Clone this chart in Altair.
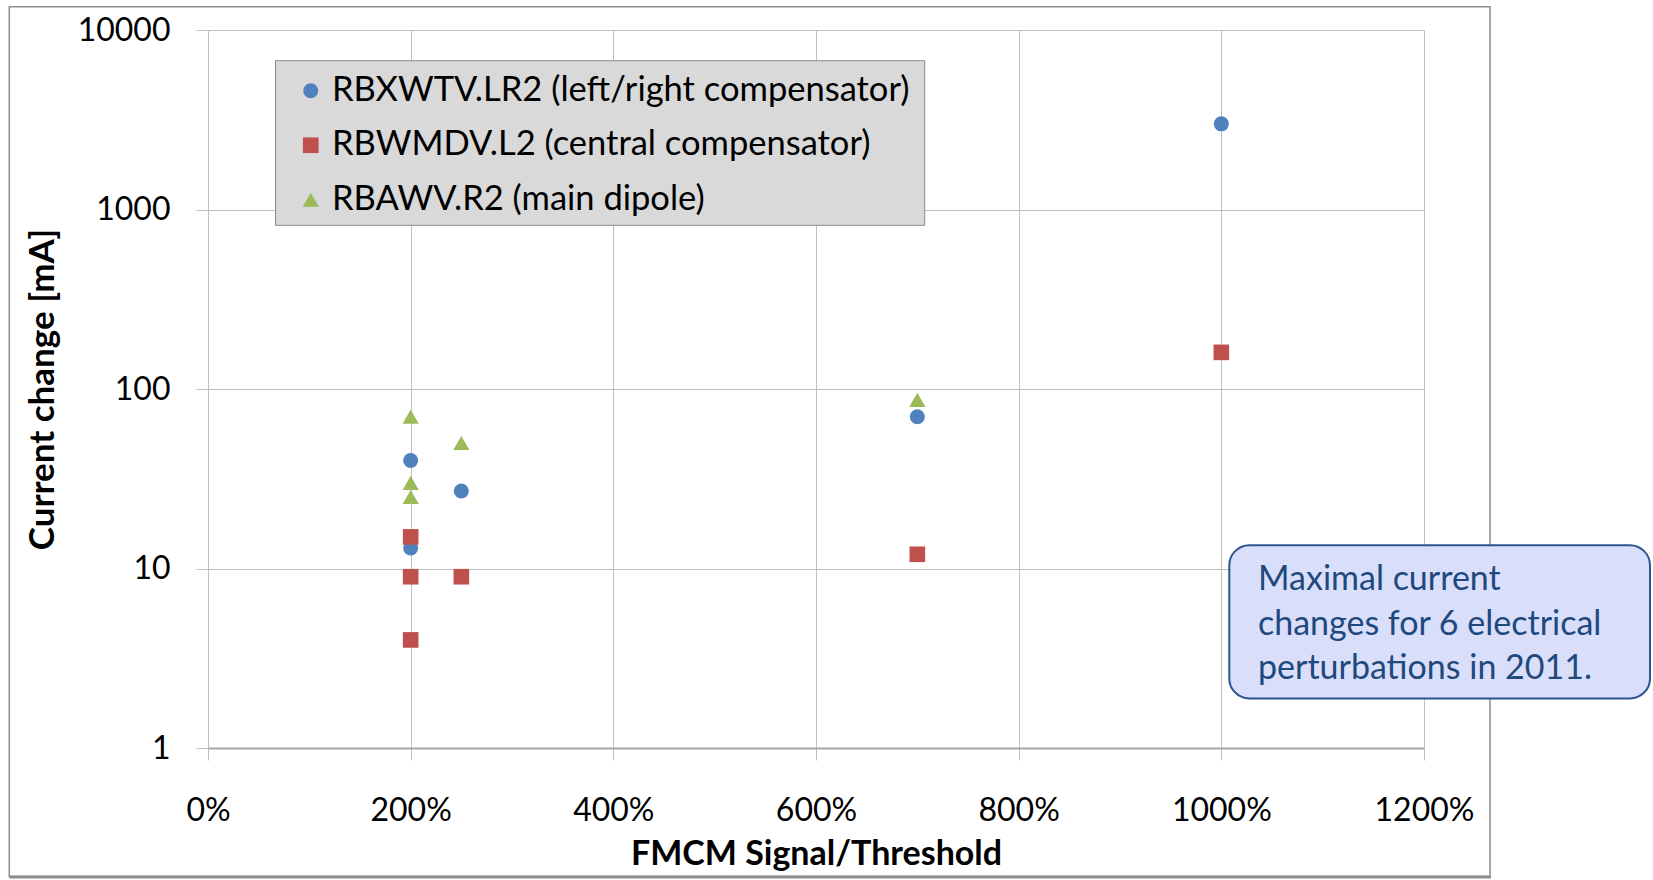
import altair as alt
import pandas as pd

series = ["RBXWTV.LR2 (left/right compensator)",
          "RBWMDV.L2 (central compensator)",
          "RBAWV.R2 (main dipole)"]
colors = ["#4f81bd", "#c0504d", "#9bbb59"]
shapes = ["circle", "square", "triangle-up"]
sizes = [225, 265, 310]

blue_x = [2.0, 2.0, 2.5, 7.0, 10.0]
blue_y = [40, 13, 27, 70, 3000]
red_x = [2.0, 2.0, 2.0, 2.5, 7.0, 10.0]
red_y = [15, 9, 4, 9, 12, 160]
green_x = [2.0, 2.0, 2.0, 2.5, 7.0]
green_y = [70, 30, 25, 50, 87]

x_ticks = [0, 2, 4, 6, 8, 10, 12]
y_ticks = [1, 10, 100, 1000, 10000]
note_lines = ["Maximal current", "changes for 6 electrical", "perturbations in 2011."]

rows = []
for name, xs, ys in zip(series, [blue_x, red_x, green_x], [blue_y, red_y, green_y]):
    for xv, yv in zip(xs, ys):
        rows.append({"series": name, "x": xv, "y": yv})
df = pd.DataFrame(rows)
one = pd.DataFrame({"k": [0]})

W, H = 1216, 718
FONT = "Lato"

legend_opts = dict(orient="none", legendX=85.5, legendY=43.5, title=None,
                   labelFont=FONT, labelFontSize=34.5, labelColor="#000000", labelLimit=1000,
                   symbolSize=150, symbolStrokeWidth=0, rowPadding=19.5, padding=0,
                   labelOffset=4)

points = alt.Chart(df).mark_point(filled=True, opacity=1, strokeWidth=0).encode(
    x=alt.X("x:Q",
            scale=alt.Scale(domain=[0, 12], nice=False, zero=False),
            axis=alt.Axis(values=x_ticks, format=".0%", title="FMCM Signal/Threshold",
                          grid=True, gridColor="#c0c0c0", gridWidth=1,
                          tickColor="#c0c0c0", tickSize=12, tickWidth=1,
                          domainColor="#a6a6a6", domainWidth=2,
                          labelFont=FONT, labelFontSize=32, labelColor="#000000",
                          labelPadding=60, labelBaseline="alphabetic",
                          labelFlush=False, labelOverlap=False,
                          titleFont=FONT, titleFontSize=34, titleFontWeight="bold",
                          titleColor="#000000", titleX=608, titleY=116,
                          titleBaseline="alphabetic", titleAlign="center")),
    y=alt.Y("y:Q",
            scale=alt.Scale(type="log", domain=[1, 10000], nice=False),
            axis=alt.Axis(values=y_ticks, format="d", title="Current change [mA]",
                          grid=True, gridColor="#c0c0c0", gridWidth=1,
                          tickColor="#c0c0c0", tickSize=12, tickWidth=1,
                          domain=False,
                          labelFont=FONT, labelFontSize=32, labelColor="#000000",
                          labelPadding=26, labelOverlap=False,
                          titleFont=FONT, titleFontSize=35, titleFontWeight="bold",
                          titleColor="#000000", titleAngle=270, titleX=-155, titleY=359,
                          titleBaseline="alphabetic", titleAlign="center")),
    color=alt.Color("series:N", scale=alt.Scale(domain=series, range=colors),
                    legend=alt.Legend(**legend_opts)),
    shape=alt.Shape("series:N", scale=alt.Scale(domain=series, range=shapes),
                    legend=alt.Legend(**legend_opts)),
    size=alt.Size("series:N", scale=alt.Scale(domain=series, range=sizes), legend=None),
)

frame = alt.Chart(one).mark_rect(fill="transparent", stroke="#8c8c8c", strokeWidth=1.5).encode(
    x=alt.value(-198.7), x2=alt.value(1282), y=alt.value(-23.3), y2=alt.value(846.5))
frame_bottom = alt.Chart(one).mark_rule(color="#8c8c8c", strokeWidth=3).encode(
    x=alt.value(-198.7), x2=alt.value(1283), y=alt.value(847))

legend_box = alt.Chart(one).mark_rect(fill="#d9d9d9", stroke="#8c8c8c", strokeWidth=1).encode(
    x=alt.value(67.5), x2=alt.value(716.7), y=alt.value(30.7), y2=alt.value(195.3))

note_box = alt.Chart(one).mark_rect(fill="#d9defb", stroke="#2c5590", strokeWidth=2,
                                    cornerRadius=20).encode(
    x=alt.value(1021.3), x2=alt.value(1442), y=alt.value(515.3), y2=alt.value(668.4))
note_text = alt.Chart(one).mark_text(text=note_lines, font=FONT, fontSize=34,
                                     color="#1f497d", align="left", baseline="alphabetic",
                                     lineHeight=44.5).encode(
    x=alt.value(1050), y=alt.value(560))

chart = alt.layer(frame, frame_bottom, legend_box, note_box, note_text, points).properties(
    width=W, height=H,
    background="#ffffff",
    autosize=alt.AutoSizeParams(type="none"),
    padding={"left": 208, "top": 30, "right": 229, "bottom": 132},
).configure_view(strokeWidth=0)

chart.save("out.html", embed_options={"renderer": "svg", "actions": False})
